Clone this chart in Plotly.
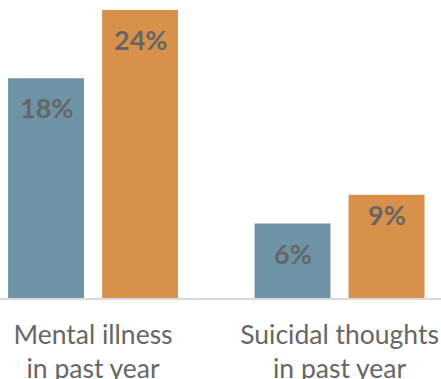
import plotly.graph_objects as go

categories = ["Mental illness<br>in past year", "Suicidal thoughts<br>in past year"]
blue_values = [18.3, 6.2]
orange_values = [24.0, 8.6]
blue_labels = ["18%", "6%"]
orange_labels = ["24%", "9%"]

BLUE = "#6F93A6"
ORANGE = "#D8914A"
TXT = "#666666"
BAR_W = 0.308
OFF = 0.1907
BLUE_SHIFT = [-29, -30]
ORANGE_SHIFT = [-30, -20]
xs = list(range(len(categories)))

fig = go.Figure()
fig.add_trace(go.Bar(x=[x - OFF for x in xs], y=blue_values, width=BAR_W,
                     marker=dict(color=BLUE, line=dict(width=0)), hoverinfo="skip"))
fig.add_trace(go.Bar(x=[x + OFF for x in xs], y=orange_values, width=BAR_W,
                     marker=dict(color=ORANGE, line=dict(width=0)), hoverinfo="skip"))

for vals, labs, shifts, sgn in ((blue_values, blue_labels, BLUE_SHIFT, -1),
                                (orange_values, orange_labels, ORANGE_SHIFT, 1)):
    for x, v, t, s in zip(xs, vals, labs, shifts):
        fig.add_annotation(x=x + sgn * OFF, y=v, text=f"<b>{t}</b>", showarrow=False,
                           yanchor="middle", yshift=s,
                           font=dict(family="Lato", size=27, color=TXT))

fig.update_layout(
    width=441, height=379,
    margin=dict(l=0, r=0, t=0, b=81),
    paper_bgcolor="white", plot_bgcolor="white",
    showlegend=False, barmode="overlay",
    xaxis=dict(range=[-0.3775, 1.4116], tickmode="array", tickvals=xs, ticktext=categories,
               automargin=False,
               showgrid=False, zeroline=False, showline=True, linecolor="#DADADA", linewidth=2,
               ticks="outside", ticklen=12, tickcolor="rgba(0,0,0,0)",
               tickfont=dict(family="Lato", size=26.5, color=TXT)),
    yaxis=dict(range=[0, 24.83], visible=False, automargin=False),
)

fig.write_html("out.html",
               config={"displayModeBar": False},
               post_script="document.body.style.margin='0';"
                           "document.documentElement.style.overflow='hidden';")
